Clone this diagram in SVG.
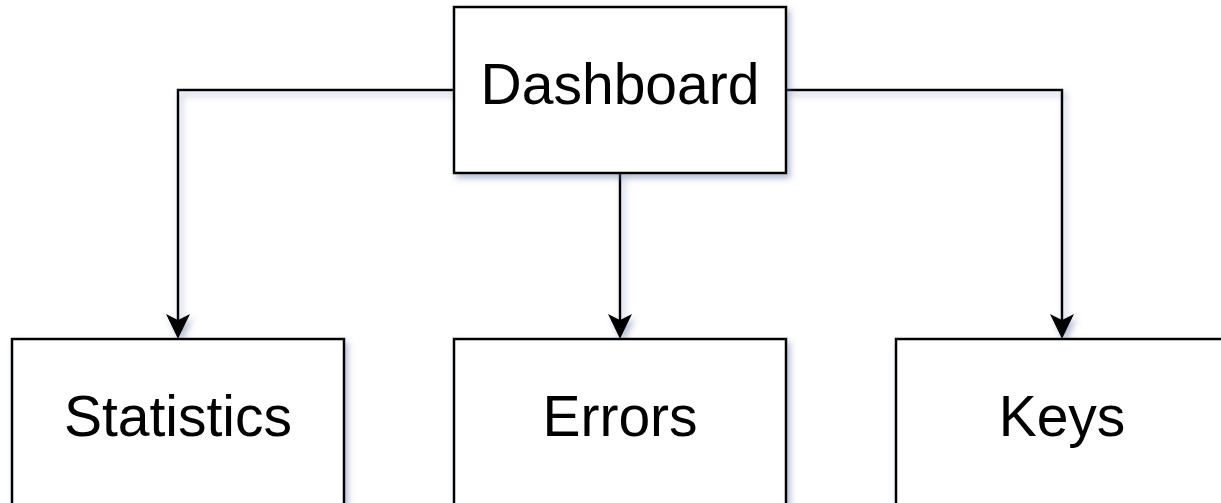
<svg xmlns="http://www.w3.org/2000/svg" width="1221" height="503" viewBox="0 0 1221 503">
<style>
.box{fill:#ffffff;stroke:#000000;stroke-width:2.5}
.lbl{font-family:"Liberation Sans",Arial,Helvetica,sans-serif;font-size:57px;fill:#000000;text-anchor:middle}
.edge{fill:none;stroke:#000000;stroke-width:2.5}
.head{fill:#000000}
</style>
<defs>
<filter id="sh" x="-10%" y="-10%" width="130%" height="130%">
<feDropShadow dx="3" dy="4" stdDeviation="3" flood-color="#5a6a9a" flood-opacity="0.45"/>
</filter>
</defs>
<rect width="1221" height="503" fill="#ffffff"/>
<g id="connectors" filter="url(#sh)">
<path class="edge" d="M454,90 H178 V325"/>
<path class="edge" d="M620,173 V325"/>
<path class="edge" d="M786,90 H1062 V325"/>
<path class="head" d="M178,339 L166,314 L178,320 L190,314 Z"/>
<path class="head" d="M620,339 L608,314 L620,320 L632,314 Z"/>
<path class="head" d="M1062,339 L1050,314 L1062,320 L1074,314 Z"/>
</g>
<g id="dashboard">
<rect class="box" x="454" y="7" width="332" height="166" filter="url(#sh)"/>
<text class="lbl" x="620" y="104">Dashboard</text>
</g>
<g id="statistics">
<rect class="box" x="12" y="339" width="332" height="166" filter="url(#sh)"/>
<text class="lbl" x="178" y="436">Statistics</text>
</g>
<g id="errors">
<rect class="box" x="454" y="339" width="332" height="166" filter="url(#sh)"/>
<text class="lbl" x="620" y="436">Errors</text>
</g>
<g id="keys">
<rect class="box" x="896" y="339" width="332" height="166" filter="url(#sh)"/>
<text class="lbl" x="1062" y="436">Keys</text>
</g>
</svg>
